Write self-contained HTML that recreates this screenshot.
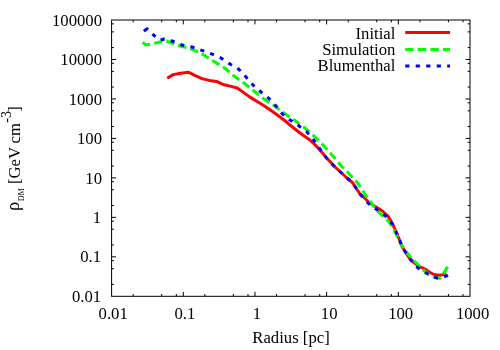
<!DOCTYPE html>
<html><head><meta charset="utf-8"><title>plot</title>
<style>
html,body{margin:0;padding:0;background:#fff;}
body{width:500px;height:350px;overflow:hidden;}
svg{display:block;will-change:transform;}
text{font-family:"Liberation Serif",serif;font-size:16.7px;fill:#000;}
</style></head><body>
<svg width="500" height="350" viewBox="0 0 500 350">
<rect x="0" y="0" width="500" height="350" fill="#fff"/>
<path d="M133.18 296.30v-2.30M133.18 20.00v2.30M161.70 296.30v-2.30M161.70 20.00v2.30M176.33 296.30v-2.30M176.33 20.00v2.30M183.28 296.30v-4.40M183.28 20.00v4.40M204.86 296.30v-2.30M204.86 20.00v2.30M233.38 296.30v-2.30M233.38 20.00v2.30M248.01 296.30v-2.30M248.01 20.00v2.30M254.96 296.30v-4.40M254.96 20.00v4.40M276.54 296.30v-2.30M276.54 20.00v2.30M305.06 296.30v-2.30M305.06 20.00v2.30M319.69 296.30v-2.30M319.69 20.00v2.30M326.64 296.30v-4.40M326.64 20.00v4.40M348.22 296.30v-2.30M348.22 20.00v2.30M376.74 296.30v-2.30M376.74 20.00v2.30M391.37 296.30v-2.30M391.37 20.00v2.30M398.32 296.30v-4.40M398.32 20.00v4.40M419.90 296.30v-2.30M419.90 20.00v2.30M448.42 296.30v-2.30M448.42 20.00v2.30M463.05 296.30v-2.30M463.05 20.00v2.30M111.60 284.42h2.30M470.00 284.42h-2.30M111.60 268.71h2.30M470.00 268.71h-2.30M111.60 260.65h2.30M470.00 260.65h-2.30M111.60 256.83h4.40M470.00 256.83h-4.40M111.60 244.95h2.30M470.00 244.95h-2.30M111.60 229.24h2.30M470.00 229.24h-2.30M111.60 221.18h2.30M470.00 221.18h-2.30M111.60 217.36h4.40M470.00 217.36h-4.40M111.60 205.48h2.30M470.00 205.48h-2.30M111.60 189.77h2.30M470.00 189.77h-2.30M111.60 181.71h2.30M470.00 181.71h-2.30M111.60 177.89h4.40M470.00 177.89h-4.40M111.60 166.00h2.30M470.00 166.00h-2.30M111.60 150.30h2.30M470.00 150.30h-2.30M111.60 142.24h2.30M470.00 142.24h-2.30M111.60 138.41h4.40M470.00 138.41h-4.40M111.60 126.53h2.30M470.00 126.53h-2.30M111.60 110.82h2.30M470.00 110.82h-2.30M111.60 102.77h2.30M470.00 102.77h-2.30M111.60 98.94h4.40M470.00 98.94h-4.40M111.60 87.06h2.30M470.00 87.06h-2.30M111.60 71.35h2.30M470.00 71.35h-2.30M111.60 63.30h2.30M470.00 63.30h-2.30M111.60 59.47h4.40M470.00 59.47h-4.40M111.60 47.59h2.30M470.00 47.59h-2.30M111.60 31.88h2.30M470.00 31.88h-2.30M111.60 23.83h2.30M470.00 23.83h-2.30" stroke="#000" stroke-width="1" fill="none"/>
<rect x="111.60" y="20.00" width="358.40" height="276.30" fill="none" stroke="#000" stroke-width="1"/>
<text x="101.1" y="301.9" text-anchor="end">0.01</text>
<text x="101.1" y="262.4" text-anchor="end">0.1</text>
<text x="101.1" y="223.0" text-anchor="end">1</text>
<text x="102.0" y="183.5" text-anchor="end">10</text>
<text x="102.0" y="144.0" text-anchor="end">100</text>
<text x="102.0" y="104.5" text-anchor="end">1000</text>
<text x="102.0" y="65.1" text-anchor="end">10000</text>
<text x="102.0" y="25.6" text-anchor="end">100000</text>
<text x="113.2" y="319.3" text-anchor="middle">0.01</text>
<text x="184.9" y="319.3" text-anchor="middle">0.1</text>
<text x="257.0" y="319.3" text-anchor="middle">1</text>
<text x="329.2" y="319.3" text-anchor="middle">10</text>
<text x="400.7" y="319.3" text-anchor="middle">100</text>
<text x="472.6" y="319.3" text-anchor="middle">1000</text>
<text x="291.0" y="343" text-anchor="middle">Radius [pc]</text>
<g transform="translate(19.5,210.3) rotate(-90)"><text x="-0.6" y="-0.5" style="font-size:18.5px">ρ</text><text x="9.3" y="4.9" style="font-size:7.8px">DM</text><text x="26.2" y="0">[GeV</text><text x="66.8" y="0">cm</text><text x="87.6" y="-8.5" style="font-size:14px">-3</text><text x="98.6" y="0">]</text></g>
<polyline points="167.2,78.3 173.2,74.6 180.4,73.2 188.2,72.2 194.8,75.4 202.0,78.6 209.2,80.4 216.5,81.4 224.0,84.8 231.2,86.4 237.2,88.0 242.0,91.4 250.4,97.4 260.0,103.2 266.0,107.0 276.0,114.0 284.0,120.0 290.0,125.0 300.0,133.0 306.0,137.3 310.0,140.0 313.0,142.8 316.0,145.7 321.4,151.7 326.0,157.3 335.0,167.0 341.0,172.5 347.0,178.0 352.5,182.7 356.0,188.0 360.0,194.0 365.0,198.5 371.0,204.0 377.0,207.5 383.0,211.5 388.0,216.0 391.0,221.0 394.0,227.0 397.0,234.0 400.0,241.0 402.0,246.5 405.2,251.8 409.0,257.5 413.3,262.0 417.3,265.2 420.0,266.8 425.0,269.0 430.0,272.5 434.0,274.5 439.0,275.2 443.0,274.7 446.5,273.8" fill="none" stroke="#ff0000" stroke-width="3" stroke-linejoin="round"/>
<polyline points="142.5,42.5 146.5,45.0 150.0,44.3 154.0,43.4 162.0,41.5 166.5,41.0 173.0,43.6 182.0,46.6 190.0,48.4 196.0,51.0 204.0,55.0 210.0,59.0 218.0,64.0 226.0,69.0 234.0,76.0 244.0,83.0 254.0,91.0 264.0,99.0 274.0,105.5 284.0,113.0 294.0,120.0 305.0,128.0 315.0,137.0 324.0,146.0 332.0,155.0 337.0,160.8 342.0,166.7 349.7,174.2 357.7,183.2 364.7,193.7 366.0,196.0 370.5,202.0 373.5,206.0 379.4,213.0 384.5,217.5 387.9,220.7 390.6,224.2 394.0,229.5 396.5,235.0 399.3,241.0 401.5,245.0 405.0,250.0 409.0,255.3 414.0,260.5 419.5,266.3 423.5,270.3 428.0,273.8 432.0,276.5 436.0,277.8 440.0,278.2 441.1,277.3 447.7,266.8" fill="none" stroke="#00ff00" stroke-width="3" stroke-dasharray="8.347 4.173" stroke-linejoin="round"/>
<polyline points="143.2,31.5 147.2,28.7 153.5,35.0 160.0,40.2 164.5,39.0 172.0,41.0 182.0,45.0 192.0,47.0 202.0,50.4 212.0,54.0 221.0,58.0 230.0,64.0 239.0,69.4 246.0,77.0 253.0,85.0 261.0,92.0 269.0,98.5 276.0,106.0 282.0,113.6 290.0,120.0 299.0,126.0 307.0,132.0 313.0,139.0 320.0,149.0 326.0,157.5 335.0,167.0 341.0,172.5 347.0,178.0 352.5,182.7 356.0,188.0 360.0,194.0 364.0,198.5 368.5,203.5 376.7,209.5 385.3,215.7 389.0,220.0 392.0,223.5 394.0,227.5 397.0,234.0 400.0,241.0 402.0,246.5 405.5,252.0 411.0,260.5 418.0,268.0 427.0,273.5 436.5,278.0 441.0,278.0 446.0,276.2 448.0,275.3" fill="none" stroke="#0000ff" stroke-width="3" stroke-dasharray="4.160 6.239" stroke-dashoffset="-1.9" stroke-linejoin="round"/>
<path d="M143.8 31.1L145.2 30.1" stroke="#0000ff" stroke-width="3" fill="none"/>
<text x="395.4" y="38.5" text-anchor="end">Initial</text>
<text x="395.4" y="54.9" text-anchor="end">Simulation</text>
<text x="395.4" y="71.2" text-anchor="end">Blumenthal</text>
<path d="M405.2 32.6H450" stroke="#ff0000" stroke-width="3" fill="none"/>
<path d="M405.2 49.4H450" stroke="#00ff00" stroke-width="3" stroke-dasharray="8.4 4.2" fill="none"/>
<path d="M405.2 66.1H450" stroke="#0000ff" stroke-width="3" stroke-dasharray="4.2 6.3" fill="none"/>
</svg></body></html>
